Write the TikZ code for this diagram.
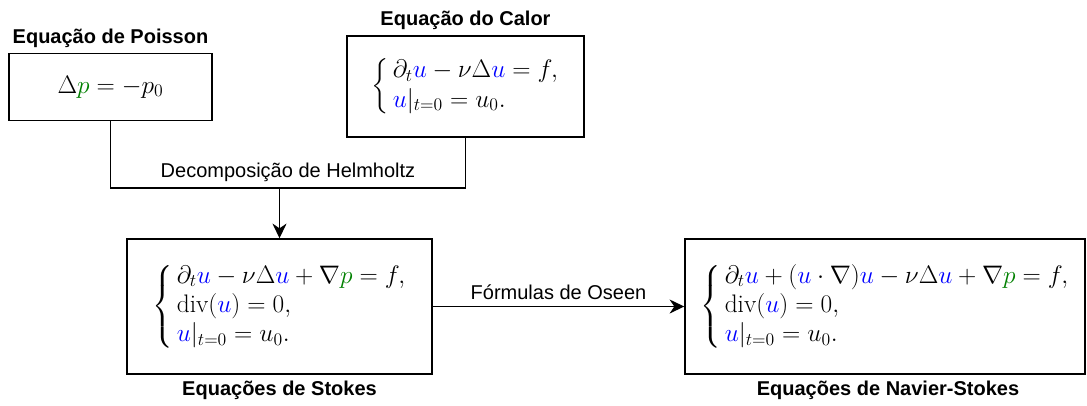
\RequirePackage{fix-cm}
\documentclass[tikz,border=0pt]{standalone}
\usepackage{amsmath}
\usepackage{fontspec}
\newfontfamily\arial{Liberation Sans}
\usetikzlibrary{arrows.meta}
\definecolor{ublue}{RGB}{0,0,255}
\definecolor{pgreen}{RGB}{0,128,0}
\newcommand{\vu}{{\color{ublue}u}}
\newcommand{\vp}{{\color{pgreen}p}}
\newcommand{\mysys}[1]{$\left\{\renewcommand{\arraystretch}{1}\,\begin{array}{@{}l@{}}#1\end{array}\right.$}
\begin{document}
\begin{tikzpicture}[x=0.75pt,y=-0.75pt, line width=1.1pt,
  box/.style={draw, inner sep=0pt, align=center, font=\fontsize{19}{22}\selectfont},
  ttl/.style={font=\arial\bfseries\fontsize{15}{18}\selectfont, inner sep=0pt},
  lbl/.style={font=\arial\fontsize{15}{18}\selectfont},
  arr/.style={-{Stealth[length=11pt,width=10.5pt,inset=3.5pt]}}]
\useasboundingbox (0,0) rectangle (1087,405);

\node[box, minimum width=152.25pt, minimum height=50.25pt] (poisson) at (110.5,87) {$\Delta\vp=-p_0$};
\node[box, minimum width=177.75pt, minimum height=75.75pt] (calor) at (465.5,86.5)
  {\mysys{\partial_t\vu-\nu\Delta\vu=f,\\ \vu|_{t=0}=u_0.}};
\node[box, minimum width=228.75pt, minimum height=101.25pt] (stokes) at (279.5,306.5)
  {\mysys{\partial_t\vu-\nu\Delta\vu+\nabla\vp=f,\\ \mathrm{div}(\vu)=0,\\ \vu|_{t=0}=u_0.}};
\node[box, minimum width=300pt, minimum height=101.25pt] (ns) at (885,306.5)
  {\mysys{\partial_t\vu+(\vu\cdot\nabla)\vu-\nu\Delta\vu+\nabla\vp=f,\\ \mathrm{div}(\vu)=0,\\ \vu|_{t=0}=u_0.}};

\node[ttl] (tpoisson) at (110.5,38) {Equação de Poisson};
\node[ttl] (tcalor) at (465.5,20) {Equação do Calor};
\node[ttl] (tstokes) at (279.5,390) {Equações de Stokes};
\node[ttl] (tns) at (888,390) {Equações de Navier-Stokes};

\coordinate (J) at (279.5,188);
\draw (poisson.south) |- node[lbl, pos=0.75, above=1pt] (helm) {Decomposição de Helmholtz} (calor.south |- J) -- (calor.south);
\draw[arr] (J) -- (stokes.north);
\draw[arr] (stokes.east) -- node[lbl, above=1pt] (oseen) {Fórmulas de Oseen} (ns.west);
\end{tikzpicture}
\end{document}
